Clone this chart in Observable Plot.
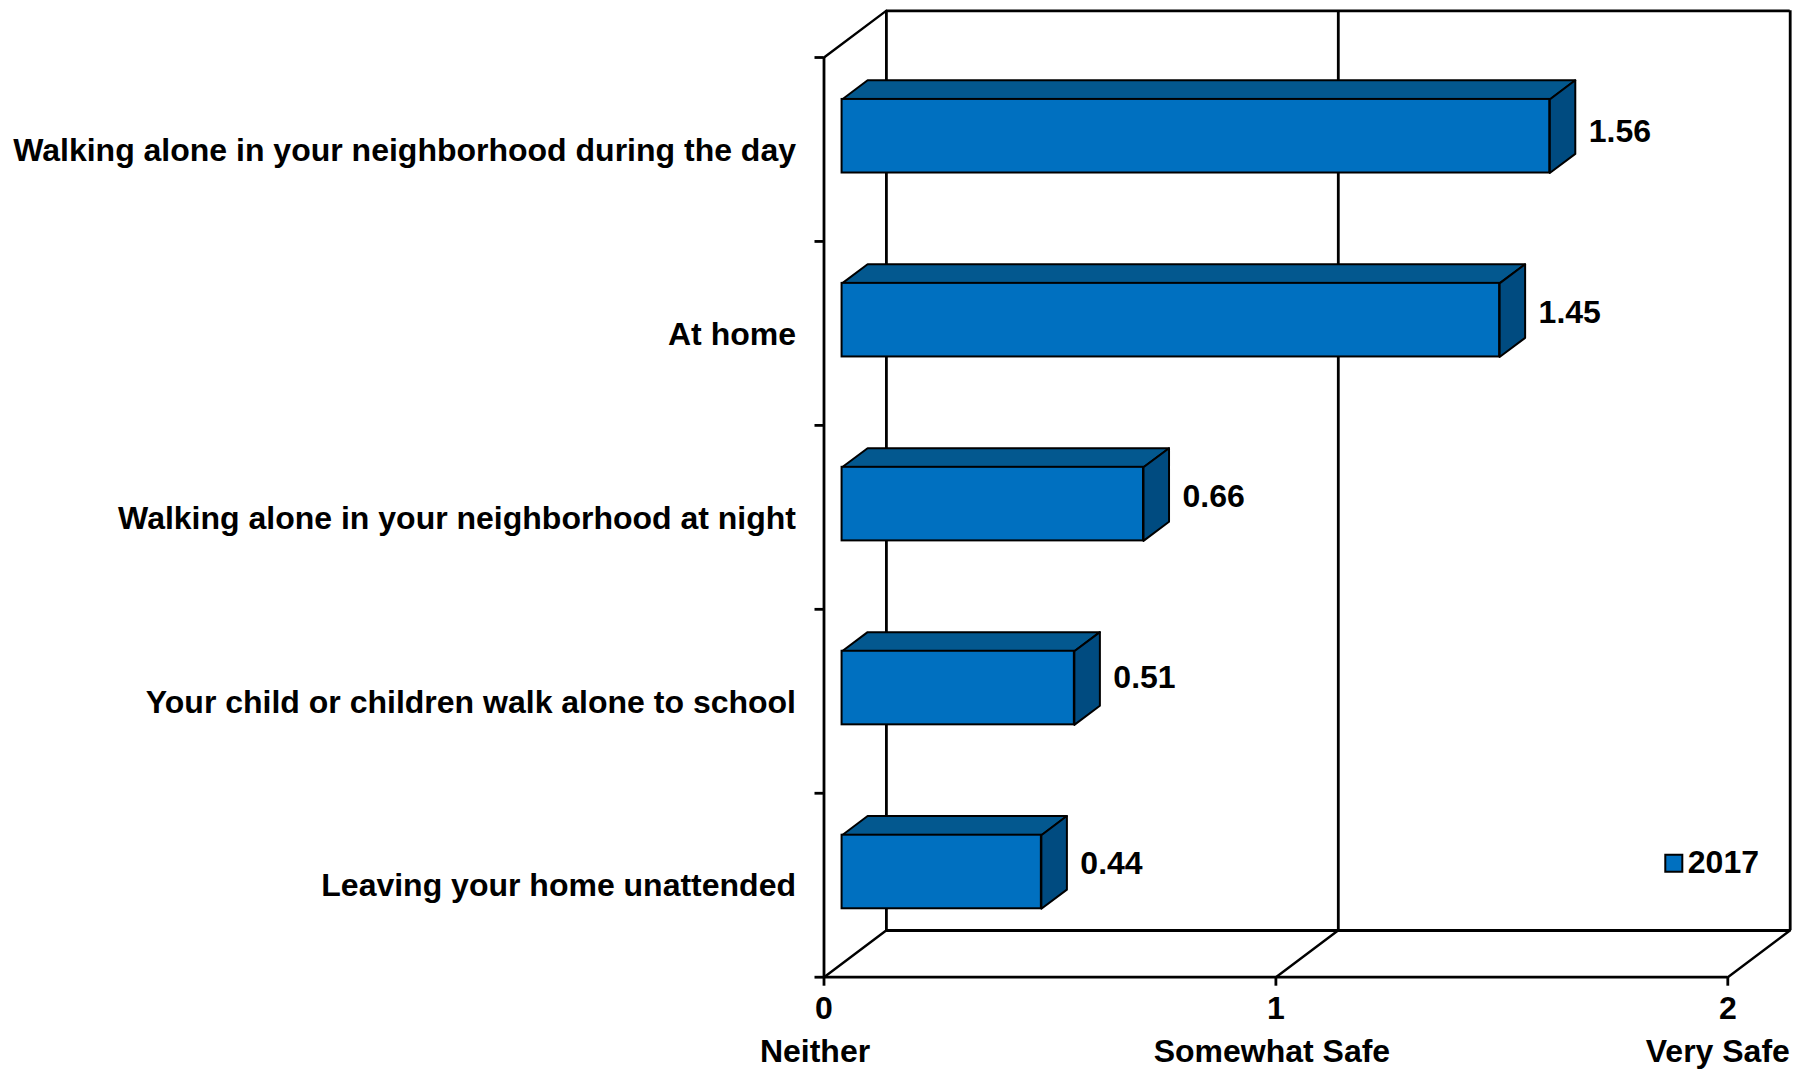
<!DOCTYPE html>
<html>
<head>
<meta charset="utf-8">
<script src="https://cdn.jsdelivr.net/npm/d3@7"></script>
<script src="https://cdn.jsdelivr.net/npm/@observablehq/plot@0.6"></script>
<style>html,body{margin:0;padding:0;background:#fff}svg{display:block}</style>
</head>
<body>
<div id="chart"></div>
<script>
const categories = [
  "Walking alone in your neighborhood during the day",
  "At home",
  "Walking alone in your neighborhood at night",
  "Your child or children walk alone to school",
  "Leaving your home unattended"
];
const values = [1.566, 1.455, 0.667, 0.514, 0.441];
const valueLabels = ["1.56", "1.45", "0.66", "0.51", "0.44"];
const scaleTicks = [0, 1, 2];
const scaleNames = ["Neither", "Somewhat Safe", "Very Safe"];
const seriesName = "2017";

// 3-D projection expressed in data units
const wallX = 0.1375, wallY = 0.2535;
const barX0 = 0.04, barCY = -0.072, barH = 0.4, barDX = 0.0565, barDY = 0.104;
const INK = "#000", FRONT = "#0070c0", TOP = "#03588f", SIDE = "#004b80";

const rows = categories.map((c, i) => ({
  c, v: values[i], label: valueLabels[i],
  x1: barX0, x2: values[i] + barX0,
  y1: i + 0.5 + barCY - barH / 2, y2: i + 0.5 + barCY + barH / 2,
  mid: i + 0.5
}));
const topFace = rows.flatMap(r => [
  {c:r.c,x:r.x1,y:r.y1},{c:r.c,x:r.x1+barDX,y:r.y1-barDY},{c:r.c,x:r.x2+barDX,y:r.y1-barDY},{c:r.c,x:r.x2,y:r.y1},{c:r.c,x:r.x1,y:r.y1}
]);
const sideFace = rows.flatMap(r => [
  {c:r.c,x:r.x2,y:r.y1},{c:r.c,x:r.x2+barDX,y:r.y1-barDY},{c:r.c,x:r.x2+barDX,y:r.y2-barDY},{c:r.c,x:r.x2,y:r.y2},{c:r.c,x:r.x2,y:r.y1}
]);
const diagonals = [
  ...scaleTicks.flatMap(t => [{k:t,x:t,y:5},{k:t,x:t+wallX,y:5-wallY}]),
  {k:"top",x:0,y:0},{k:"top",x:wallX,y:-wallY}
];
const labelLift = [-4, -7, -7, -10, -7];
const nameShift = [-9, -4, -10];

const wallRule = {y1:0, y2:5, dx:62.4, dy:-46.7, stroke:INK, strokeWidth:2.8};
const chart = Plot.plot({
  width:1800, height:1069,
  marginLeft:823.5, marginRight:72.7, marginTop:57, marginBottom:92.3,
  x:{domain:[0,2], axis:null},
  y:{domain:[0,5], reverse:true, axis:null},
  style:{fontFamily:"'Liberation Sans', Arial, sans-serif", fontWeight:"bold", fontSize:"32px", color:"#000", background:"#fff"},
  marks:[
    Plot.ruleX([0,1,2], {...wallRule}),
    Plot.ruleY([0,5], {x1:0, x2:2, dx:62.4, dy:-46.7, stroke:INK, strokeWidth:2.8}),
    Plot.line(diagonals, {x:"x", y:"y", z:"k", stroke:INK, strokeWidth:2.4}),
    Plot.ruleX([0], {y1:0, y2:5, stroke:INK, strokeWidth:2.8}),
    Plot.ruleY([5], {x1:0, x2:2, stroke:INK, strokeWidth:2.8}),
    Plot.axisY({ticks:[0,1,2,3,4,5], tickFormat:()=>"", tickSize:9, label:null, strokeWidth:2.8, anchor:"left"}),
    Plot.axisX({ticks:scaleTicks, tickFormat:d=>String(d), tickSize:9, tickPadding:10, label:null, strokeWidth:2.8, fontSize:32, anchor:"bottom"}),
    Plot.line(topFace, {x:"x", y:"y", z:"c", fill:TOP, stroke:INK, strokeWidth:2}),
    Plot.line(sideFace, {x:"x", y:"y", z:"c", fill:SIDE, stroke:INK, strokeWidth:2}),
    Plot.rect(rows, {x1:"x1", x2:"x2", y1:"y1", y2:"y2", fill:FRONT, stroke:INK, strokeWidth:2}),
    Plot.text(rows, {x:0, y:"mid", text:"c", textAnchor:"end", dx:-28, dy:1, fontSize:32}),
    ...rows.map((r, i) => Plot.text([r], {x:"x2", y:"mid", text:"label", textAnchor:"start", dx:39, dy:labelLift[i]-14, fontSize:32})),
    ...scaleNames.map((n, i) => Plot.text([n], {x:()=>scaleTicks[i], y:5, text:d=>d, textAnchor:"middle", dx:nameShift[i], dy:75, fontSize:32})),
    Plot.dot([seriesName], {frameAnchor:"bottom-right", dx:-54, dy:-114, symbol:"square", r:9.6, fill:FRONT, stroke:INK, strokeWidth:2}),
    Plot.text([seriesName], {frameAnchor:"bottom-right", lineAnchor:"middle", dx:-40, dy:-114, text:d=>d, textAnchor:"start", fontSize:32})
  ]
});
document.getElementById("chart").appendChild(chart);
</script>
</body>
</html>
